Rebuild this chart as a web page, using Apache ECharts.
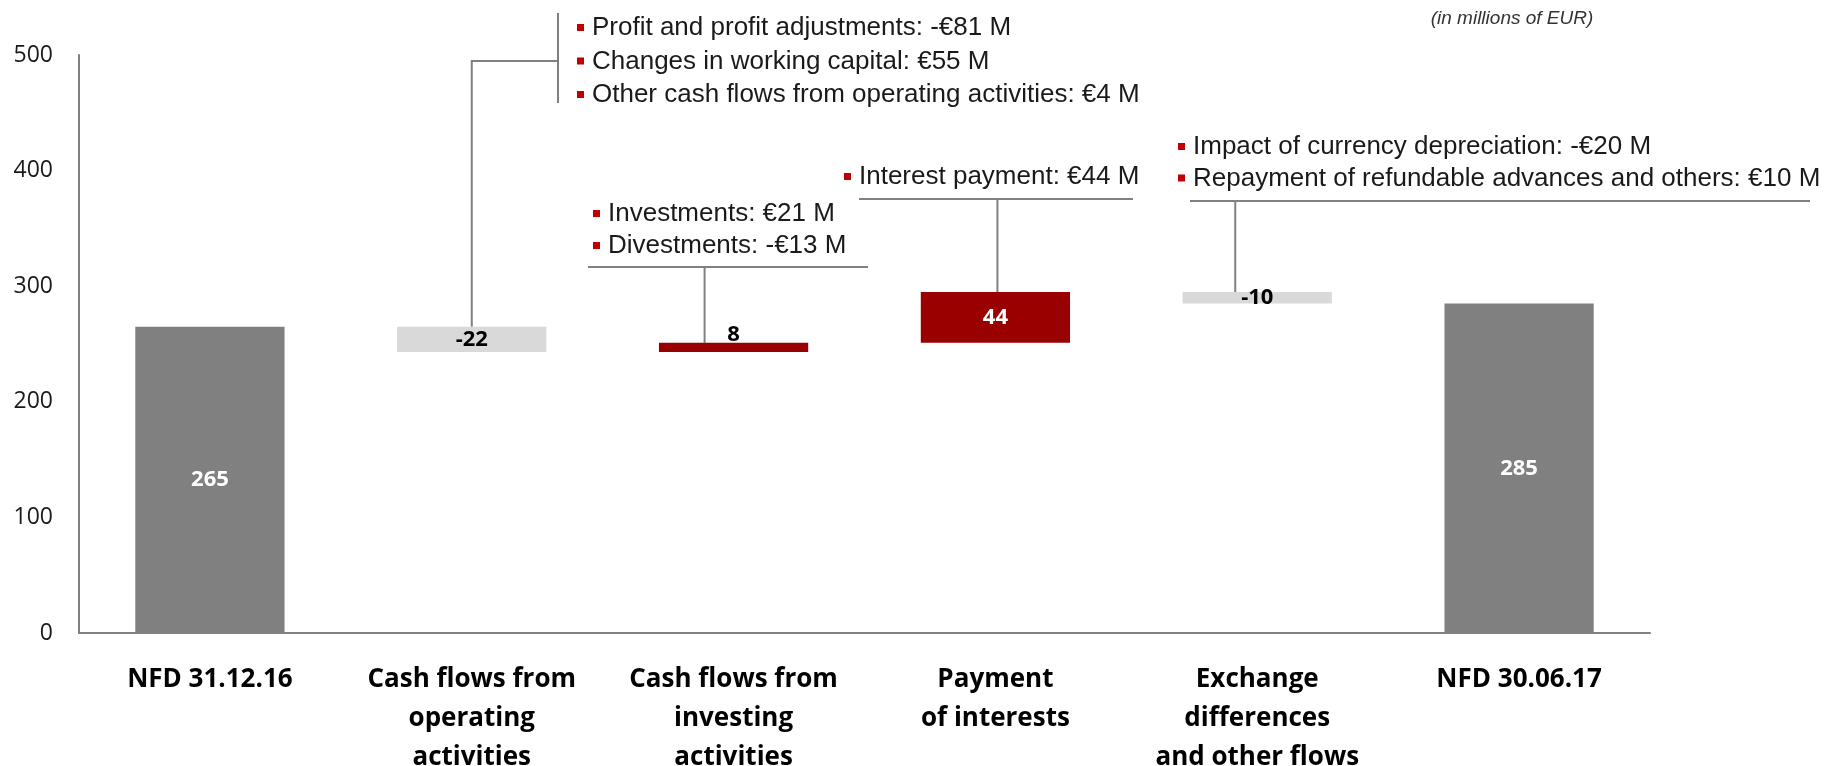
<!DOCTYPE html>
<html>
<head>
<meta charset="utf-8">
<script src="https://cdn.jsdelivr.net/npm/echarts@6/dist/echarts.min.js"></script>
<style>
  html, body { margin: 0; padding: 0; background: #fff; }
  #main { width: 1838px; height: 766px; }
</style>
</head>
<body>
<div id="main"></div>
<script>
// categories and values (in millions of EUR)
const categories = [
  'NFD 31.12.16',
  'Cash flows from\noperating\nactivities',
  'Cash flows from\ninvesting\nactivities',
  'Payment\nof interests',
  'Exchange\ndifferences\nand other flows',
  'NFD 30.06.17',
];
const changes = [265, -22, 8, 44, -10, 285];
const isTotal = [true, false, false, false, false, true];
const yMin = 0;
const yMax = 500;
const yStep = 100;

// breakdown notes
const operatingNotes = [
  'Profit and profit adjustments: -€81 M',
  'Changes in working capital: €55 M',
  'Other cash flows from operating activities: €4 M',
];
const investingNotes = [
  'Investments: €21 M',
  'Divestments: -€13 M',
];
const interestNotes = [
  'Interest payment: €44 M',
];
const exchangeNotes = [
  'Impact of currency depreciation: -€20 M',
  'Repayment of refundable advances and others: €10 M',
];

const COLORS = {
  total: '#808080',
  down: '#d9d9d9',
  up: '#990000',
  bullet: '#c00000',
  line: '#808080',
  text: '#1a1a1a',
};

// build the waterfall (invisible base + visible bar)
let running = 0;
const baseData = [];
const barData = [];
changes.forEach((v, i) => {
  let start, size, kind;
  if (isTotal[i]) {
    start = 0; size = v; kind = 'total';
    running = v;
  } else {
    start = v < 0 ? running + v : running;
    size = Math.abs(v);
    kind = v < 0 ? 'down' : 'up';
    running += v;
  }
  baseData.push(start);
  const onTop = kind === 'up' && size < 10;
  barData.push({
    value: size,
    itemStyle: { color: COLORS[kind] },
    label: {
      position: onTop ? 'top' : 'inside',
      distance: onTop ? -3 : 5,
      color: (kind === 'down' || onTop) ? '#000' : '#fff',
    },
  });
});

const chart = echarts.init(document.getElementById('main'));

const option = {
  animation: false,
  backgroundColor: '#fff',
  grid: { left: 79, right: 188, top: 55, bottom: 133, outerBoundsMode: 'none', containLabel: false },
  xAxis: {
    type: 'category',
    data: categories,
    axisLine: { lineStyle: { color: COLORS.line, width: 2 } },
    axisTick: { show: false },
    axisLabel: {
      interval: 0,
      margin: 27,
      fontSize: 26,
      lineHeight: 39,
      fontWeight: 'bold',
      fontFamily: 'Open Sans',
      color: '#000',
    },
  },
  yAxis: {
    type: 'value',
    min: yMin,
    max: yMax,
    interval: yStep,
    axisLine: { show: true, lineStyle: { color: COLORS.line, width: 2 } },
    axisTick: { show: false },
    splitLine: { show: false },
    axisLabel: {
      margin: 26,
      fontSize: 23,
      fontFamily: 'Open Sans',
      color: COLORS.text,
    },
  },
  series: [
    {
      type: 'bar',
      stack: 'wf',
      barWidth: '57%',
      itemStyle: { color: 'transparent' },
      emphasis: { disabled: true },
      data: baseData,
    },
    {
      type: 'bar',
      stack: 'wf',
      barWidth: '57%',
      label: {
        show: true,
        fontSize: 22,
        fontWeight: 'bold',
        fontFamily: 'Open Sans',
        formatter: (p) => String(changes[p.dataIndex]),
      },
      data: barData,
    },
  ],
};

chart.setOption(option);

// annotations: anchored to the bar tops through the grid scales
const barTop = (i) => chart.convertToPixel('grid', [i, baseData[i] + barData[i].value]);
const noteFont = { fontSize: 26, fontFamily: 'Liberation Sans', fill: COLORS.text };
const graphic = [];

function line(points) {
  graphic.push({
    type: 'polyline',
    shape: { points },
    style: { stroke: COLORS.line, lineWidth: 2, fill: null },
    silent: true,
  });
}

function notes(list, textX, firstY, step) {
  list.forEach((t, k) => {
    const y = firstY + k * step;
    graphic.push({
      type: 'rect',
      shape: { x: textX - 15, y: y - 4, width: 7, height: 7 },
      style: { fill: COLORS.bullet },
      silent: true,
    });
    graphic.push({
      type: 'text',
      style: Object.assign({ text: t, x: textX, y, verticalAlign: 'middle' }, noteFont),
      silent: true,
    });
  });
}

// operating activities: elbow + bracket
{
  const [x, y] = barTop(1);
  line([[x, y], [x, 61], [558, 61]]);
  line([[558, 13], [558, 103]]);
  notes(operatingNotes, 592, 28, 33.5);
}
// investing activities
{
  const [x, y] = barTop(2);
  line([[588, 267], [868, 267]]);
  line([[x - 29, 267], [x - 29, y]]);
  notes(investingNotes, 608, 214, 32);
}
// payment of interests
{
  const [x, y] = barTop(3);
  line([[859, 199], [1133, 199]]);
  line([[x + 2, 199], [x + 2, y]]);
  notes(interestNotes, 859, 177, 32);
}
// exchange differences
{
  const [x, y] = barTop(4);
  line([[1190, 201], [1810, 201]]);
  line([[x - 22, 201], [x - 22, y]]);
  notes(exchangeNotes, 1193, 147, 31.5);
}

graphic.push({
  type: 'text',
  style: {
    text: '(in millions of EUR)',
    x: 1512,
    y: 19,
    align: 'center',
    verticalAlign: 'middle',
    fontSize: 19,
    fontStyle: 'italic',
    fontFamily: 'Liberation Sans',
    fill: '#333',
  },
  silent: true,
});

chart.setOption({ graphic });
</script>
</body>
</html>
